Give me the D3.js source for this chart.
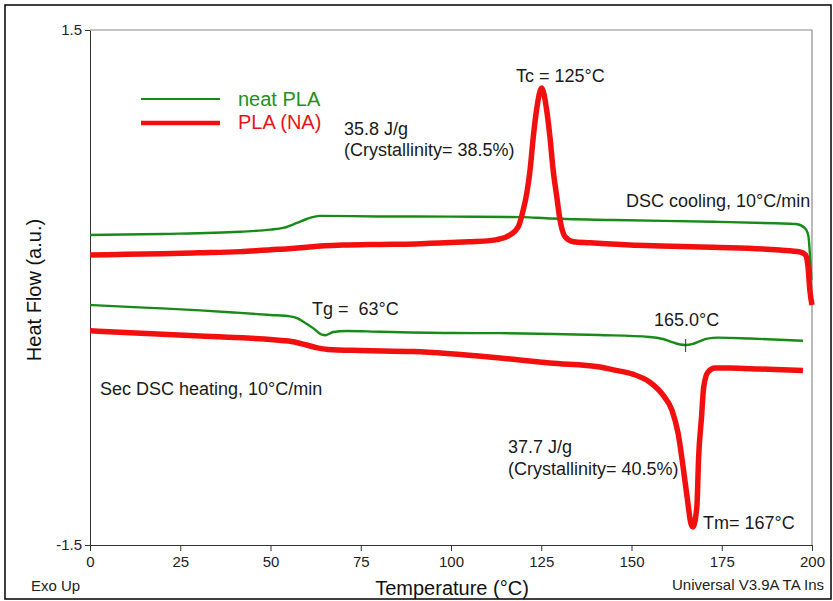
<!DOCTYPE html>
<html><head><meta charset="utf-8">
<script src="https://cdn.jsdelivr.net/npm/d3@7"></script>
<style>
body{margin:0;background:#fff}
svg{display:block}
text{font-family:"Liberation Sans",Arial,sans-serif}
</style>
</head><body>
<svg id="c" width="833" height="601"></svg>
<script>
// ---- data ----
const xTicks = [0, 25, 50, 75, 100, 125, 150, 175, 200];
const yTicks = [1.5, -1.5];
const seriesNames = ["neat PLA", "PLA (NA)"];

// DSC cooling, neat PLA  [temperature °C, heat flow a.u.]
const coolNeat = [[0,0.306],[20,0.312],[41.6,0.325],[50,0.337],[53.5,0.347],[57.3,0.376],[60,0.399],[63.7,0.417],
  [80,0.414],[100,0.413],[120,0.410],[126.3,0.403],[145,0.393],[172.6,0.383],[190,0.374],[195.6,0.370],
  [198.1,0.345],[199,0.30],[199.4,0.201],[199.8,0.044]];
// DSC cooling, PLA (NA)
const coolNA = [[0,0.189],[10,0.193],[20,0.197],[30,0.202],[41.6,0.209],[50,0.220],[55,0.226],[60,0.234],[64,0.242],
  [70,0.247],[80,0.251],[90,0.254],[100,0.262],[105,0.267],[110.8,0.273],[112.7,0.279],[116.3,0.306],[118.6,0.352],
  [120,0.451],[121,0.55],[121.9,0.684],[122.8,0.878],[123.7,1.034],[125.1,1.162],[126.5,1.034],[127.4,0.878],
  [128.3,0.684],[129.3,0.529],[130.2,0.393],[131.6,0.296],[133.9,0.267],[138.5,0.261],[154,0.244],[172.6,0.234],
  [191,0.218],[196.7,0.207],[198.2,0.19],[198.9,0.119],[199.4,-0.015],[200,-0.102]];
// Second DSC heating, neat PLA
const heatNeat = [[0,-0.102],[15,-0.117],[30.5,-0.133],[41.6,-0.148],[50,-0.160],[55.4,-0.168],[57.5,-0.180],
  [59.1,-0.199],[61.9,-0.238],[64.2,-0.275],[65.3,-0.278],[67.4,-0.259],[71.1,-0.253],[80.3,-0.258],[100,-0.265],
  [113.6,-0.266],[141,-0.277],[155,-0.288],[158.7,-0.300],[161.5,-0.320],[163.5,-0.332],[165,-0.335],[166.8,-0.330],
  [169,-0.312],[171,-0.298],[174,-0.292],[182.8,-0.297],[197.5,-0.310]];
// Second DSC heating, PLA (NA)
const heatNA = [[0,-0.252],[30.5,-0.283],[55,-0.312],[60,-0.335],[63,-0.352],[66,-0.361],[75,-0.367],[89.5,-0.373],
  [113.6,-0.411],[127.4,-0.440],[141.3,-0.463],[145,-0.48],[150.4,-0.505],[155.1,-0.552],[158.7,-0.626],
  [161.2,-0.714],[162.9,-0.848],[164.3,-1.046],[165.4,-1.220],[166.5,-1.378],[167.0,-1.395],[168.1,-1.279],
  [168.6,-0.987],[169.4,-0.754],[170.0,-0.580],[171.2,-0.492],[173.1,-0.469],[177.3,-0.469],[185.6,-0.475],
  [197.5,-0.484]];
// marker on neat PLA melting dip
const meltMarkNeat = [165, -0.335];

// ---- drawing ----
const GREEN = "#188a18", RED = "#f2100f";
const svg = d3.select("#c");
const x = d3.scaleLinear().domain([0, 200]).range([90, 812]);
const y = d3.scaleLinear().domain([-1.5, 1.5]).range([545, 30]);

// outer border
svg.append("rect").attr("x",5).attr("y",5).attr("width",826).attr("height",594)
  .attr("fill","none").attr("stroke","#111").attr("stroke-width",1.6);

// plot frame (top/right)
svg.append("path").attr("d",`M${x(0)},${y(1.5)}H${x(200)}V${y(-1.5)}`)
  .attr("fill","none").attr("stroke","#8a8a8a").attr("stroke-width",1.2);

const xAxis = svg.append("g").attr("transform",`translate(0,${y(-1.5)})`)
  .call(d3.axisBottom(x).tickValues(xTicks).tickSize(6).tickSizeOuter(0).tickPadding(5).tickFormat(d=>String(d)));
const yAxis = svg.append("g").attr("transform",`translate(${x(0)},0)`)
  .call(d3.axisLeft(y).tickValues(yTicks).tickSize(5).tickSizeOuter(0).tickPadding(3).tickFormat(d=>String(d)));
[xAxis,yAxis].forEach(g=>{
  g.selectAll("text").attr("font-size",15).attr("fill","#222").attr("font-family","Liberation Sans, Arial, sans-serif");
  g.selectAll("line,path").attr("stroke","#333");
});

const line = d3.line().x(d=>x(d[0])).y(d=>y(d[1])).curve(d3.curveMonotoneX);
const curves = svg.append("g");
curves.append("path").datum(coolNeat).attr("d",line).attr("fill","none").attr("stroke",GREEN).attr("stroke-width",2.4);
curves.append("path").datum(heatNeat).attr("d",line).attr("fill","none").attr("stroke",GREEN).attr("stroke-width",2.4);
curves.append("path").datum(coolNA).attr("d",line).attr("fill","none").attr("stroke",RED).attr("stroke-width",5.5).attr("stroke-linejoin","round");
curves.append("path").datum(heatNA).attr("d",line).attr("fill","none").attr("stroke",RED).attr("stroke-width",5.5).attr("stroke-linejoin","round");

// marker tick on green melt
svg.append("line").attr("x1",x(meltMarkNeat[0])).attr("x2",x(meltMarkNeat[0]))
  .attr("y1",y(meltMarkNeat[1])-6).attr("y2",y(meltMarkNeat[1])+7).attr("stroke","#333").attr("stroke-width",1);

// legend
const leg = svg.append("g");
leg.append("line").attr("x1",141).attr("x2",220).attr("y1",99).attr("y2",99).attr("stroke",GREEN).attr("stroke-width",2.2);
leg.append("line").attr("x1",141).attr("x2",220).attr("y1",123).attr("y2",123).attr("stroke",RED).attr("stroke-width",4.5);
leg.append("text").attr("x",238).attr("y",106).attr("font-size",20).attr("fill","#209020").text(seriesNames[0]);
leg.append("text").attr("x",238).attr("y",129).attr("font-size",20).attr("fill","#e8141a").text(seriesNames[1]);

// annotations
const ann = [
  ["35.8 J/g",344,135,18],["(Crystallinity= 38.5%)",344,156,18],["Tc = 125°C",516,82,18],
  ["DSC cooling, 10°C/min",626,207,18],["Tg =  63°C",312,315,18],["Sec DSC heating, 10°C/min",100,395,18],
  ["165.0°C",654,326,18],["37.7 J/g",508,453,18],["(Crystallinity= 40.5%)",508,475,18],["Tm= 167°C",703,529,18]
];
ann.forEach(a=>svg.append("text").attr("x",a[1]).attr("y",a[2]).attr("font-size",a[3]).attr("fill","#1a1a1a")
  .attr("xml:space","preserve").style("white-space","pre").text(a[0]));

// axis titles & footer
svg.append("text").attr("x",452).attr("y",595).attr("text-anchor","middle").attr("font-size",20).attr("fill","#111").text("Temperature (°C)");
svg.append("text").attr("transform","translate(41,290) rotate(-90)").attr("text-anchor","middle").attr("font-size",20).attr("fill","#111").text("Heat Flow (a.u.)");
svg.append("text").attr("x",31).attr("y",591).attr("font-size",15).attr("fill","#222").text("Exo Up");
svg.append("text").attr("x",672).attr("y",590).attr("font-size",15).attr("fill","#222").text("Universal V3.9A TA Ins");
</script>
</body></html>
